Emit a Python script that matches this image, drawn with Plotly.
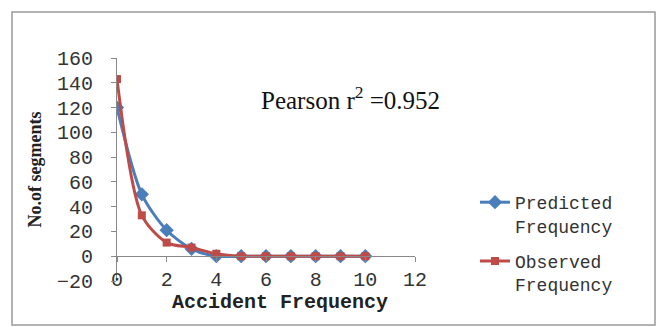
import plotly.graph_objects as go

x_vals = [0, 1, 2, 3, 4, 5, 6, 7, 8, 9, 10]
predicted = [120, 50, 21, 6, 0, 0, 0, 0, 0, 0, 0]
observed = [143, 33, 11, 7, 2, 0, 0, 0, 0, 0, 0]
y_ticks = [-20, 0, 20, 40, 60, 80, 100, 120, 140, 160]
x_ticks = [0, 2, 4, 6, 8, 10, 12]

W, H = 661, 327
L, R, T, B = 117, 661 - 415, 58, 327 - 281
pw, ph = W - L - R, H - T - B

def px(xp):
    return (xp - L) / pw

def py(yp):
    return (H - B - yp) / ph

BLUE = "#4A7EBB"
RED = "#BE4B48"

fig = go.Figure()
fig.add_trace(go.Scatter(
    x=x_vals, y=predicted, mode="lines+markers", name="Predicted<br>Frequency",
    line=dict(color=BLUE, width=3, shape="spline", smoothing=0.8),
    marker=dict(symbol="diamond", size=11, color=BLUE), legendgroup="a"))
fig.add_trace(go.Scatter(
    x=x_vals, y=observed, mode="lines+markers", name="Observed<br>Frequency",
    line=dict(color=RED, width=3, shape="spline", smoothing=0.8),
    marker=dict(symbol="square", size=8, color=RED), legendgroup="b"))

tickfont = dict(family="Liberation Mono", size=20, color="#333333")

fig.update_layout(
    width=W, height=H,
    margin=dict(l=L, r=R, t=T, b=B),
    paper_bgcolor="white", plot_bgcolor="white",
    showlegend=True,
    legend=dict(x=px(475), y=py(184), xanchor="left", yanchor="top",
                font=dict(family="Liberation Mono", size=18, color="#333333"),
                valign="top", tracegroupgap=9, bgcolor="rgba(0,0,0,0)"),
    xaxis=dict(range=[0, 12], tickvals=x_ticks, showgrid=False, zeroline=False,
               showline=True, linecolor="#888888", linewidth=1,
               ticks="outside", ticklen=5, tickcolor="#888888",
               tickfont=tickfont, anchor="free", position=20 / 180),
    yaxis=dict(range=[-20, 160], tickvals=y_ticks, showgrid=False, zeroline=False,
               showline=True, linecolor="#888888", linewidth=1,
               ticks="outside", ticklen=5, tickcolor="#888888",
               tickfont=tickfont, ticklabelstandoff=14,
               title=dict(text="<b>No.of segments</b>",
                          font=dict(family="Liberation Serif", size=18, color="#222222"),
                          standoff=10)),
    annotations=[
        dict(text="Pearson r<sup>2</sup> =0.952", x=px(350), y=py(98),
             xref="paper", yref="paper", showarrow=False,
             xanchor="center", yanchor="middle",
             font=dict(family="Liberation Serif", size=25, color="#111111")),
        dict(text="<b>Accident Frequency</b>", x=px(280), y=py(302),
             xref="paper", yref="paper", showarrow=False,
             xanchor="center", yanchor="middle",
             font=dict(family="Liberation Mono", size=20, color="#222222")),
    ],
    shapes=[dict(type="rect", xref="paper", yref="paper",
                 x0=px(12), x1=px(655), y0=py(12), y1=py(325),
                 line=dict(color="#999999", width=1.5), layer="below")],
)

fig.write_html("out.html")
